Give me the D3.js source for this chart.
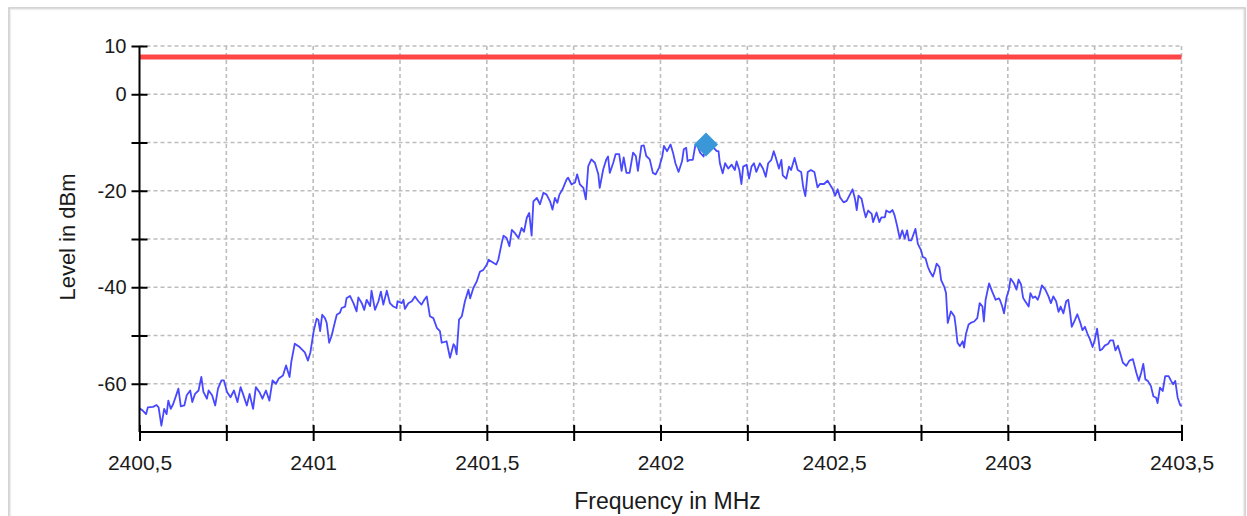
<!DOCTYPE html>
<html>
<head>
<meta charset="utf-8">
<script src="https://cdn.jsdelivr.net/npm/d3@7"></script>
<style>
  html, body { margin: 0; padding: 0; background: #ffffff; }
  svg { display: block; }
  text { font-family: "Liberation Sans", Arial, sans-serif; fill: #1a1a1a; }
</style>
</head>
<body>
<svg id="chart" width="1247" height="516"></svg>
<script>
// ---- data ----
const freqMHz = [
  2400.500,2400.510,2400.519,2400.524,2400.539,2400.549,2400.555,2400.563,2400.571,2400.578,
  2400.583,2400.590,2400.597,2400.607,2400.612,2400.619,2400.629,2400.636,2400.646,2400.652,
  2400.660,2400.670,2400.678,2400.684,2400.694,2400.699,2400.709,2400.718,2400.726,2400.736,
  2400.743,2400.752,2400.762,2400.772,2400.782,2400.791,2400.798,2400.809,2400.817,2400.827,
  2400.835,2400.845,2400.854,2400.864,2400.874,2400.883,2400.893,2400.901,2400.913,2400.922,
  2400.932,2400.937,2400.947,2400.961,2400.976,2400.985,2400.992,2401.002,2401.010,
  2401.015,2401.020,2401.026,2401.034,2401.039,2401.046,2401.053,2401.063,2401.068,2401.077,
  2401.082,2401.092,2401.096,2401.106,2401.116,2401.125,2401.130,2401.140,2401.147,2401.154,
  2401.164,2401.168,2401.178,2401.188,2401.195,2401.202,2401.212,2401.221,2401.231,2401.240,
  2401.243,2401.255,2401.260,2401.264,2401.274,2401.284,2401.293,2401.303,2401.312,2401.320,
  2401.327,2401.336,2401.346,2401.356,2401.365,2401.370,2401.384,2401.394,2401.404,2401.408,
  2401.413,2401.420,2401.428,2401.437,2401.447,2401.452,2401.461,2401.471,2401.480,2401.490,
  2401.500,2401.505,2401.514,2401.527,2401.533,2401.543,2401.548,2401.557,2401.565,2401.572,
  2401.581,2401.591,2401.600,2401.607,2401.615,2401.622,2401.629,2401.634,2401.644,2401.653,
  2401.663,2401.672,2401.682,2401.689,2401.696,2401.703,2401.709,2401.718,2401.730,2401.734,
  2401.744,2401.754,2401.760,2401.768,2401.778,2401.785,2401.792,2401.801,2401.811,2401.821,
  2401.825,2401.835,2401.844,2401.849,2401.854,2401.864,2401.871,2401.881,2401.888,2401.894,
  2401.902,2401.911,2401.921,2401.929,2401.935,2401.945,2401.952,2401.959,2401.969,2401.978,
  2401.986,2401.996,
  2402.005,2402.010,2402.019,2402.029,2402.036,2402.043,2402.052,2402.062,2402.067,2402.074,
  2402.078,2402.084,2402.093,2402.100,2402.105,2402.114,2402.124,2402.131,2402.148,2402.162,
  2402.167,2402.171,2402.179,2402.186,2402.195,2402.205,2402.214,2402.219,2402.227,2402.233,
  2402.238,2402.248,2402.255,2402.262,2402.269,2402.276,2402.286,2402.295,2402.303,2402.310,
  2402.319,2402.326,2402.331,2402.341,2402.348,2402.352,2402.362,2402.370,2402.376,2402.386,
  2402.395,2402.405,2402.411,2402.417,2402.424,2402.433,2402.443,2402.452,2402.459,2402.471,
  2402.481,
  2402.496,2402.503,2402.510,2402.517,2402.527,2402.536,2402.546,2402.553,2402.560,2402.565,
  2402.570,2402.579,2402.586,2402.591,2402.598,2402.608,2402.612,2402.622,2402.630,2402.636,
  2402.646,2402.650,2402.660,2402.668,2402.674,2402.681,2402.689,2402.696,2402.703,2402.710,
  2402.715,2402.722,2402.729,2402.734,2402.741,2402.750,2402.755,2402.763,2402.770,2402.776,
  2402.784,2402.789,2402.795,2402.803,2402.808,2402.817,2402.822,2402.827,2402.836,2402.846,
  2402.850,2402.855,2402.862,2402.870,2402.874,2402.879,2402.887,2402.893,2402.903,2402.912,
  2402.919,2402.927,2402.931,2402.936,2402.946,2402.955,2402.965,2402.974,
  2402.977,2402.984,2402.989,2402.996,2403.003,2403.008,2403.017,2403.025,2403.031,2403.038,
  2403.044,2403.050,2403.060,2403.065,2403.072,2403.079,2403.086,2403.091,2403.098,2403.108,
  2403.117,2403.124,2403.131,2403.139,2403.146,2403.152,2403.160,2403.168,2403.174,2403.179,
  2403.184,2403.193,2403.200,2403.208,2403.215,2403.222,2403.229,2403.236,2403.244,2403.250,
  2403.257,2403.265,2403.272,2403.279,2403.289,2403.295,2403.303,2403.310,2403.317,2403.324,
  2403.331,2403.341,2403.350,2403.360,2403.370,2403.377,2403.384,2403.390,2403.396,2403.403,
  2403.412,2403.419,2403.427,2403.431,2403.438,2403.446,2403.453,2403.463,2403.470,2403.476,
  2403.482,2403.489,2403.496,2403.500
];
const levelDbm = [
  -65.1,-65.6,-66.3,-64.9,-64.8,-64.4,-64.9,-68.7,-65.2,-66.3,
  -63.5,-65.2,-64.2,-62.1,-61.0,-64.7,-64.5,-62.4,-61.4,-63.8,
  -62.1,-61.4,-58.6,-61.7,-63.1,-61.4,-62.4,-64.5,-61.0,-59.3,
  -59.3,-61.7,-62.8,-61.4,-63.8,-60.7,-62.1,-64.5,-62.1,-65.2,
  -60.7,-61.7,-63.1,-61.4,-63.5,-59.3,-60.0,-58.9,-58.3,-56.2,
  -58.6,-55.5,-51.7,-52.4,-53.5,-55.2,-53.5,-48.9,-46.5,
  -46.8,-49.1,-45.7,-46.4,-47.4,-51.5,-50.1,-47.1,-45.7,-45.3,
  -44.3,-44.0,-42.3,-41.8,-43.3,-45.0,-42.1,-43.3,-44.7,-42.6,
  -43.9,-40.7,-44.7,-42.9,-40.9,-43.6,-40.7,-43.3,-44.0,-44.3,
  -42.9,-43.3,-42.6,-44.5,-43.3,-42.9,-41.9,-42.9,-43.6,-42.6,
  -41.9,-46.0,-46.4,-48.4,-49.1,-51.5,-51.2,-54.6,-51.8,-52.2,
  -53.9,-46.7,-46.0,-42.9,-40.5,-42.3,-40.2,-38.8,-36.8,-36.4,
  -35.3,-34.3,-34.7,-35.3,-34.3,-30.8,-29.3,-29.8,-31.5,-28.1,
  -28.8,-29.8,-27.7,-28.5,-25.6,-24.6,-29.3,-22.2,-21.5,-22.8,
  -20.4,-20.8,-22.2,-23.9,-21.5,-22.5,-20.8,-19.7,-17.6,-17.3,
  -18.7,-18.3,-16.6,-18.7,-19.4,-21.8,-14.9,-13.5,-14.2,-16.6,
  -19.4,-15.6,-13.5,-12.9,-16.3,-14.2,-12.4,-12.4,-15.9,-13.1,
  -16.3,-16.3,-12.1,-12.8,-15.9,-10.7,-10.6,-12.8,-13.5,-16.3,
  -16.6,-15.2,
  -12.9,-10.7,-11.8,-10.4,-12.1,-14.3,-16.1,-13.9,-11.4,-11.1,
  -13.9,-13.6,-13.6,-10.7,-10.4,-12.1,-12.9,-10.4,-10.7,-11.8,
  -11.8,-14.3,-16.4,-14.3,-15.4,-14.6,-15.7,-13.9,-15.7,-18.6,
  -15.0,-14.6,-17.5,-15.0,-14.3,-16.1,-14.3,-15.4,-17.1,-14.3,
  -13.6,-11.8,-12.9,-15.4,-13.6,-16.8,-17.5,-15.0,-15.7,-13.2,
  -15.7,-16.1,-19.3,-21.1,-16.1,-15.7,-16.1,-19.3,-18.6,-18.6,
  -17.9,
  -19.7,-21.0,-19.7,-21.4,-22.4,-22.1,-20.7,-19.7,-21.7,-24.0,
  -21.0,-21.7,-24.1,-25.5,-24.1,-24.8,-26.5,-24.5,-26.5,-25.5,
  -25.5,-24.1,-24.5,-24.0,-25.1,-27.2,-29.9,-28.2,-29.9,-28.2,
  -30.3,-30.3,-28.9,-27.9,-31.0,-32.3,-33.7,-34.0,-35.8,-36.8,
  -37.8,-36.8,-35.1,-35.8,-38.5,-39.9,-41.2,-47.4,-45.0,-46.0,
  -48.1,-51.5,-52.2,-51.2,-52.5,-49.8,-47.7,-47.4,-47.1,-46.4,
  -43.3,-44.0,-47.1,-42.6,-39.2,-40.9,-42.6,-42.3,
  -42.6,-44.0,-45.4,-42.2,-40.5,-38.2,-39.1,-40.5,-38.4,-39.4,
  -42.2,-42.9,-44.0,-41.2,-42.2,-41.9,-42.6,-41.6,-39.6,-40.5,
  -41.9,-43.3,-41.9,-42.9,-45.1,-44.0,-45.4,-42.9,-42.6,-45.1,
  -48.2,-46.8,-45.6,-47.2,-48.9,-48.2,-49.6,-50.7,-52.4,-51.0,
  -48.6,-53.1,-52.8,-52.1,-51.7,-51.0,-51.0,-53.1,-52.1,-53.8,
  -55.6,-56.3,-55.2,-54.9,-57.7,-59.4,-57.7,-55.9,-59.1,-59.4,
  -60.5,-62.6,-62.9,-64.0,-60.8,-61.5,-58.4,-58.4,-59.4,-60.1,
  -59.4,-62.9,-64.4,-64.6
];
const limitLevel = [7.7];
const markerFreq = [2402.131];
const markerLevel = [-10.4];
const xTickValues = [2400.5,2400.75,2401,2401.25,2401.5,2401.75,2402,2402.25,2402.5,2402.75,2403,2403.25,2403.5];
const xTickLabels = ["2400,5","","2401","","2401,5","","2402","","2402,5","","2403","","2403,5"];
const yTickValues = [-60,-50,-40,-30,-20,-10,0,10];
const yTickLabels = ["-60","","-40","","-20","","0","10"];
const xTitle = "Frequency in MHz";
const yTitle = "Level in dBm";

// ---- drawing ----
const svg = d3.select("#chart");
const W = 1247, H = 516;

// outer frame
svg.append("rect").attr("x", 9).attr("y", 8).attr("width", W - 11).attr("height", H)
  .attr("fill", "none").attr("stroke", "#c6c6c6").attr("stroke-width", 1.5);
svg.append("rect").attr("x", 10.5).attr("y", 9.5).attr("width", W - 14).attr("height", H)
  .attr("fill", "none").attr("stroke", "#efefef").attr("stroke-width", 1.5);

const x = d3.scaleLinear().domain([2400.5, 2403.5]).range([139.5, 1181.5]);
const y = d3.scaleLinear().domain([-70, 10]).range([432, 46]);

// grid
const grid = svg.append("g").attr("stroke", "#bdbdbd").attr("stroke-width", 1.6)
  .attr("stroke-dasharray", "4,3");
grid.selectAll("line.v").data(xTickValues.slice(1)).join("line").attr("class", "v")
  .attr("x1", d => x(d)).attr("x2", d => x(d)).attr("y1", y(10)).attr("y2", y(-70));
grid.selectAll("line.h").data(yTickValues).join("line").attr("class", "h")
  .attr("x1", x(2400.5)).attr("x2", x(2403.5)).attr("y1", d => y(d)).attr("y2", d => y(d));

// limit line
svg.selectAll("line.limit").data(limitLevel).join("line").attr("class", "limit")
  .attr("x1", x(2400.5)).attr("x2", x(2403.5)).attr("y1", d => y(d)).attr("y2", d => y(d))
  .attr("stroke", "#ff4646").attr("stroke-width", 5);

// trace
const pts = freqMHz.map((f, i) => [f, levelDbm[i]]);
svg.append("path").datum(pts)
  .attr("fill", "none").attr("stroke", "#4848ff").attr("stroke-width", 1.8)
  .attr("stroke-linejoin", "round")
  .attr("d", d3.line().x(d => x(d[0])).y(d => y(d[1])));

// marker
svg.selectAll("path.marker").data(markerFreq).join("path").attr("class", "marker")
  .attr("d", d3.symbol().type(d3.symbolSquare).size(290))
  .attr("transform", (d, i) => `translate(${x(d)},${y(markerLevel[i])}) rotate(45)`)
  .attr("fill", "#3a98d8");

// axes
const yAxis = svg.append("g").attr("transform", `translate(${x(2400.5)},0)`)
  .call(d3.axisLeft(y).tickValues(yTickValues).tickSize(8).tickPadding(5)
    .tickFormat((d, i) => yTickLabels[i]));
yAxis.select(".domain").attr("d", `M0,${y(10)}V${y(-70)}`).attr("stroke", "#000").attr("stroke-width", 2);
yAxis.selectAll(".tick line").attr("x1", 8).attr("stroke", "#000").attr("stroke-width", 2);
yAxis.selectAll(".tick text").style("font-size", "20px").attr("fill", "#1a1a1a")
  .style("font-family", "'Liberation Sans', Arial, sans-serif");

const xAxis = svg.append("g").attr("transform", `translate(0,${y(-70)})`)
  .call(d3.axisBottom(x).tickValues(xTickValues).tickSize(9).tickPadding(14)
    .tickFormat((d, i) => xTickLabels[i]));
xAxis.select(".domain").attr("d", `M${x(2400.5)},0H${x(2403.5)}`).attr("stroke", "#000").attr("stroke-width", 2);
xAxis.selectAll(".tick line").attr("y1", -7).attr("stroke", "#000").attr("stroke-width", 2);
xAxis.selectAll(".tick text").style("font-size", "21px").attr("fill", "#1a1a1a")
  .style("font-family", "'Liberation Sans', Arial, sans-serif");

// titles
svg.append("text").attr("x", (x(2400.5) + x(2403.5)) / 2 + 7).attr("y", 509)
  .attr("text-anchor", "middle").style("font-size", "23px").text(xTitle);
svg.append("text").attr("transform", `translate(75,${(y(10) + y(-70)) / 2 - 2}) rotate(-90)`)
  .attr("text-anchor", "middle").style("font-size", "22px").text(yTitle);
</script>
</body>
</html>
